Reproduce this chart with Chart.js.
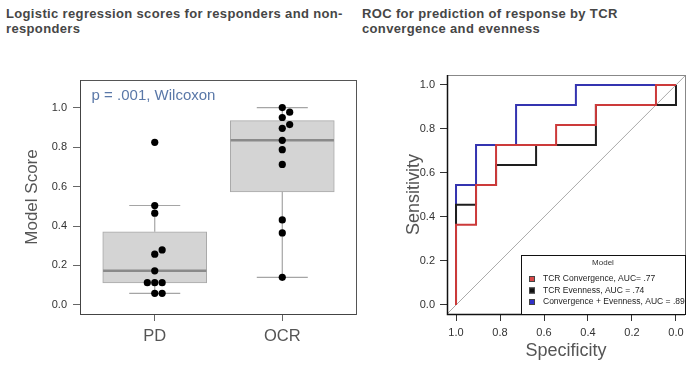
<!DOCTYPE html>
<html>
<head>
<meta charset="utf-8">
<script src="https://cdn.jsdelivr.net/npm/chart.js@4"></script>
<style>
  html, body { margin: 0; padding: 0; background: #fff; }
  body { width: 700px; height: 374px; position: relative; overflow: hidden; font-family: 'Liberation Sans', Arial, sans-serif; }
  .ttl { position: absolute; top: 6px; font-size: 13px; font-weight: bold; color: #464646; line-height: 15px; letter-spacing: 0.35px; white-space: nowrap; }
  #t1 { left: 6px; }
  #t2 { left: 362px; }
  canvas { position: absolute; top: 0; }
  #boxChart { left: 0; }
  #rocChart { left: 360px; }
</style>
</head>
<body>
<div class="ttl" id="t1">Logistic regression scores for responders and non-<br>responders</div>
<div class="ttl" id="t2">ROC for prediction of response by TCR<br>convergence and evenness</div>
<canvas id="boxChart" width="360" height="374"></canvas>
<canvas id="rocChart" width="340" height="374"></canvas>
<script>
Chart.defaults.font.family = "'Liberation Sans', Arial, sans-serif";

// ---- left panel: model scores by group
const groups = ['PD', 'OCR'];
const pdScores = [0.824, 0.504, 0.465, 0.279, 0.257, 0.173, 0.113, 0.113, 0.113, 0.059, 0.059];
const ocrScores = [1.0, 0.977, 0.950, 0.914, 0.895, 0.834, 0.787, 0.712, 0.431, 0.365, 0.140];
const boxQ1 = [0.112, 0.573];
const boxMedian = [0.173, 0.834];
const boxQ3 = [0.371, 0.934];
const whiskerLow = [0.059, 0.140];
const whiskerHigh = [0.504, 1.0];
const scoreTicks = [0, 0.2, 0.4, 0.6, 0.8, 1.0];

// ---- right panel: ROC curves (specificity, sensitivity)
const convSpec = [1, 1, 0.909, 0.909, 0.818, 0.818, 0.545, 0.545, 0.364, 0.364, 0.091, 0.091, 0];
const convSens = [0, 0.364, 0.364, 0.545, 0.545, 0.727, 0.727, 0.818, 0.818, 0.909, 0.909, 1, 1];
const evenSpec = [1, 1, 0.909, 0.909, 0.818, 0.818, 0.636, 0.636, 0.364, 0.364, 0, 0];
const evenSens = [0, 0.455, 0.455, 0.545, 0.545, 0.636, 0.636, 0.727, 0.727, 0.909, 0.909, 1];
const bothSpec = [1, 1, 0.909, 0.909, 0.727, 0.727, 0.455, 0.455, 0];
const bothSens = [0, 0.545, 0.545, 0.727, 0.727, 0.909, 0.909, 1, 1];
const modelNames = ['TCR Convergence, AUC= .77', 'TCR Evenness, AUC = .74', 'Convergence + Evenness, AUC = .89'];
const rocTicks = [1.0, 0.8, 0.6, 0.4, 0.2, 0.0];

// spread points that would overlap (simple beeswarm)
function swarm(values, step, gap) {
  const offs = values.map(() => 0);
  const placed = [];
  const idx = values.map((v, i) => i).sort((a, b) => values[a] - values[b]);
  for (const i of idx) {
    for (const o of [0, step, -step, 2 * step, -2 * step]) {
      if (!placed.some(p => p.o === o && Math.abs(p.v - values[i]) < gap)) {
        offs[i] = o;
        placed.push({ v: values[i], o });
        break;
      }
    }
  }
  return offs;
}

// list of [x1,y1,x2,y2] -> line data with gaps between pieces
function segs(list) {
  const out = [];
  list.forEach(s => out.push({ x: s[0], y: s[1] }, { x: s[2], y: s[3] }, { x: s[2], y: null }));
  return out;
}

const frame = {
  id: 'frame',
  afterDatasetsDraw(chart, args, opts) {
    const { ctx, chartArea: a } = chart;
    ctx.save();
    ctx.lineWidth = 1;
    ctx.strokeStyle = opts.color;
    ctx.strokeRect(a.left + 0.5, a.top + 0.5, a.right - a.left, a.bottom - a.top);
    ctx.strokeStyle = opts.axisColor;
    ctx.lineWidth = opts.axisWidth;
    ctx.beginPath();
    ctx.moveTo(a.left + 0.5, a.top);
    ctx.lineTo(a.left + 0.5, a.bottom + 0.5);
    ctx.lineTo(a.right, a.bottom + 0.5);
    ctx.stroke();
    ctx.restore();
  }
};

const pLabel = {
  id: 'pLabel',
  afterDatasetsDraw(chart) {
    const { ctx, scales } = chart;
    ctx.save();
    ctx.font = "15px 'Liberation Sans', Arial, sans-serif";
    ctx.fillStyle = '#5a78a8';
    ctx.textBaseline = 'middle';
    ctx.fillText('p = .001, Wilcoxon', scales.x.getPixelForValue(-0.495), scales.y.getPixelForValue(1.059));
    ctx.restore();
  }
};

const boxLegend = {
  id: 'boxLegend',
  afterDatasetsDraw(chart) {
    const { ctx, chartArea: a } = chart;
    const left = a.right - 164, top = a.bottom - 59;
    ctx.save();
    ctx.fillStyle = '#fff';
    ctx.fillRect(left, top, 164, 59);
    ctx.strokeStyle = '#111';
    ctx.lineWidth = 1;
    ctx.strokeRect(left + 0.5, top + 0.5, 164, 59);
    ctx.fillStyle = '#333';
    ctx.font = "8px 'Liberation Sans', Arial, sans-serif";
    ctx.textAlign = 'center';
    ctx.textBaseline = 'middle';
    ctx.fillText('Model', left + 82, top + 8);
    ctx.textAlign = 'left';
    ctx.font = "8.5px 'Liberation Sans', Arial, sans-serif";
    chart.data.datasets.filter(d => d.label).forEach((d, k) => {
      const y = top + 24 + k * 11.5;
      ctx.fillStyle = d.legendFill;
      ctx.fillRect(left + 8, y - 3, 6, 6);
      ctx.strokeStyle = '#444';
      ctx.strokeRect(left + 8.5, y - 2.5, 5, 5);
      ctx.fillStyle = '#222';
      ctx.fillText(d.label, left + 22, y);
    });
    ctx.restore();
  }
};

// ---- left chart
const jitterStep = 0.058;
const pdOff = swarm(pdScores, jitterStep, 0.035);
const ocrOff = swarm(ocrScores, jitterStep, 0.035);
const points = pdScores.map((v, i) => ({ x: 0 + pdOff[i], y: v }))
  .concat(ocrScores.map((v, i) => ({ x: 1 + ocrOff[i], y: v })));

const boxHalf = 0.405, capHalf = 0.2;
const medianSegs = groups.map((g, i) => [i - boxHalf, boxMedian[i], i + boxHalf, boxMedian[i]]);
const whiskerSegs = [];
groups.forEach((g, i) => {
  whiskerSegs.push([i, boxQ3[i], i, whiskerHigh[i]]);
  whiskerSegs.push([i, whiskerLow[i], i, boxQ1[i]]);
  whiskerSegs.push([i - capHalf, whiskerHigh[i], i + capHalf, whiskerHigh[i]]);
  whiskerSegs.push([i - capHalf, whiskerLow[i], i + capHalf, whiskerLow[i]]);
});

new Chart(document.getElementById('boxChart'), {
  type: 'scatter',
  data: {
    datasets: [
      { type: 'scatter', data: points, pointRadius: 3.6, pointBackgroundColor: '#000', pointBorderWidth: 0, order: 0 },
      { type: 'line', data: segs(medianSegs), borderColor: '#8a8a8a', borderWidth: 2.5, pointRadius: 0, spanGaps: false, order: 1 },
      { type: 'line', data: segs(whiskerSegs), borderColor: '#a5a5a5', borderWidth: 1.2, pointRadius: 0, spanGaps: false, order: 2 },
      { type: 'bar', data: groups.map((g, i) => ({ x: i, y: [boxQ1[i], boxQ3[i]] })), backgroundColor: '#d4d4d4',
        borderColor: '#a8a8a8', borderWidth: 1, borderSkipped: false, barThickness: 104, order: 3 }
    ]
  },
  options: {
    responsive: false,
    animation: false,
    layout: { padding: { top: 80, right: 3, left: 0, bottom: 0 } },
    plugins: { legend: { display: false }, tooltip: { enabled: false }, frame: { color: '#555', axisColor: '#444', axisWidth: 1 } },
    scales: {
      x: {
        type: 'linear', min: -0.586, max: 1.578, offset: false,
        afterBuildTicks: s => { s.ticks = groups.map((g, i) => ({ value: i })); },
        ticks: { callback: v => groups[v], font: { size: 16.5 }, color: '#555', padding: 6 },
        grid: { offset: false, drawOnChartArea: false, tickLength: 7, color: '#666' },
        border: { display: false },
        afterFit: s => { s.height = 60; }
      },
      y: {
        min: -0.046, max: 1.14,
        afterBuildTicks: s => { s.ticks = scoreTicks.map(v => ({ value: v })); },
        ticks: { callback: v => v.toFixed(1), font: { size: 11 }, color: '#333', padding: 6 },
        grid: { drawOnChartArea: false, tickLength: 7, color: '#666' },
        border: { display: false },
        title: { display: true, text: 'Model Score', font: { size: 17 }, color: '#555', padding: { top: 22, bottom: 0 } },
        afterFit: s => { s.width = 80; }
      }
    }
  },
  plugins: [frame, pLabel]
});

// ---- right chart
const rocSpec = [convSpec, evenSpec, bothSpec];
const rocSens = [convSens, evenSens, bothSens];
const rocColors = ['#cc3a3a', '#1e1e1e', '#3434b0'];
const rocFills = ['#d84848', '#111111', '#3030c8'];
const xMin = -0.041, xMax = 1.041;

const rocSets = modelNames.map((name, k) => ({
  type: 'line', label: name, legendFill: rocFills[k],
  data: rocSpec[k].map((s, j) => ({ x: s, y: rocSens[k][j] })),
  borderColor: rocColors[k], borderWidth: 2, pointRadius: 0, order: k
}));
rocSets.push({
  type: 'line', data: [{ x: xMax, y: 1 - xMax }, { x: xMin, y: 1 - xMin }],
  borderColor: '#aaaaaa', borderWidth: 1, pointRadius: 0, order: 10
});

new Chart(document.getElementById('rocChart'), {
  type: 'scatter',
  data: { datasets: rocSets },
  options: {
    responsive: false,
    animation: false,
    layout: { padding: { top: 75, right: 15, left: 0, bottom: 0 } },
    plugins: { legend: { display: false }, tooltip: { enabled: false }, frame: { color: '#888', axisColor: '#111', axisWidth: 1.5 } },
    scales: {
      x: {
        type: 'linear', reverse: true, min: xMin, max: xMax,
        afterBuildTicks: s => { s.ticks = rocTicks.map(v => ({ value: v })); },
        ticks: { callback: v => v.toFixed(1), font: { size: 11 }, color: '#333', padding: 5 },
        grid: { drawOnChartArea: false, tickLength: 7, color: '#333' },
        border: { display: false },
        title: { display: true, text: 'Specificity', font: { size: 18 }, color: '#555', padding: { top: 0, bottom: 12 } },
        afterFit: s => { s.height = 60; }
      },
      y: {
        min: -0.041, max: 1.045,
        afterBuildTicks: s => { s.ticks = rocTicks.map(v => ({ value: v })); },
        ticks: { callback: v => v.toFixed(1), font: { size: 11 }, color: '#333', padding: 5 },
        grid: { drawOnChartArea: false, tickLength: 7, color: '#333' },
        border: { display: false },
        title: { display: true, text: 'Sensitivity', font: { size: 18 }, color: '#555', padding: { top: 43, bottom: 0 } },
        afterFit: s => { s.width = 87; }
      }
    }
  },
  plugins: [frame, boxLegend]
});
</script>
</body>
</html>
